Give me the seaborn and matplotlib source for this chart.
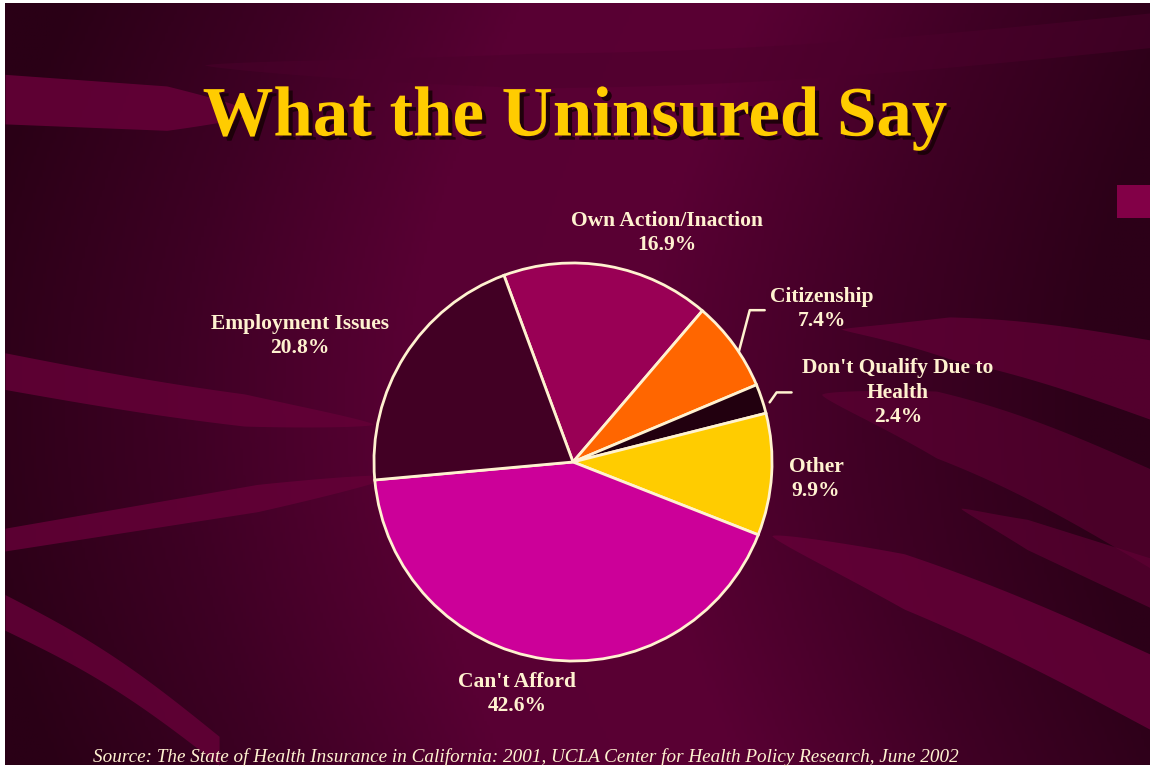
import numpy as np
import matplotlib
matplotlib.use("Agg")
import matplotlib.pyplot as plt
import matplotlib.patheffects as pe
from matplotlib.colors import LinearSegmentedColormap
import seaborn as sns

# ---- data ----
categories = ["Own Action/Inaction", "Citizenship", "Don't Qualify Due to\nHealth",
              "Other", "Can't Afford", "Employment Issues"]
shares = [16.9, 7.4, 2.4, 9.9, 42.6, 20.8]
slice_colors = ["#990055", "#FF6600", "#22000F", "#FFCC00", "#CC0099", "#420024"]
title_text = "What the Uninsured Say"
source_text = ("Source: The State of Health Insurance in California: 2001, "
               "UCLA Center for Health Policy Research, June 2002")

sns.set_theme(style="white")
plt.rcParams['font.family'] = ['Liberation Serif', 'DejaVu Serif']

W, H = 1150, 769
fig = plt.figure(figsize=(W / 100, H / 100), dpi=100, facecolor="white")

# ---- background ----
bg = fig.add_axes([5 / W, 4 / H, (W - 5) / W, (H - 7) / H])
bg.set_xlim(0, W)
bg.set_ylim(H, 0)
bg.axis("off")
cmap = LinearSegmentedColormap.from_list(
    "bg", ["#2A0016", "#3E0024", "#580033", "#5A0034", "#400025", "#2C0018"])
xx = np.linspace(0, 1, 400)
yy = np.linspace(0, 1, 200)
X, Y = np.meshgrid(xx, yy)
Z = np.clip(X + 0.10 * np.sin(Y * 3) - 0.05, 0, 1)
bg.imshow(Z, extent=[0, W, H, 0], cmap=cmap, aspect="auto", zorder=0)

band = "#640037"
t = np.linspace(0, 1, 200)
def tape(x0, x1, top0, top1, bot0, bot1, color=band, alpha=0.9, bend=0.0,
         taper_start=False, taper_end=False):
    x = x0 + (x1 - x0) * t
    s = bend * np.sin(t * np.pi)
    top = top0 + (top1 - top0) * t + s
    bot = bot0 + (bot1 - bot0) * t + s
    mid = (top + bot) / 2
    half = (bot - top) / 2
    f = np.ones_like(t)
    if taper_start:
        f = np.minimum(f, np.clip(t / 0.35, 0, 1) ** 0.7)
    if taper_end:
        f = np.minimum(f, np.clip((1 - t) / 0.35, 0, 1) ** 0.7)
    bg.fill_between(x, mid - half * f, mid + half * f,
                    color=color, alpha=alpha, lw=0, zorder=1)

# top-left band
tape(0, 250, 72, 90, 122, 132, taper_end=True)
# faint top arc
tape(200, 1150, 45, 10, 80, 45, color="#4C002C", alpha=0.5, bend=20, taper_start=True)
# left bands
tape(0, 370, 353, 410, 390, 440, alpha=0.85, bend=5, taper_end=True)
tape(0, 390, 530, 462, 553, 492, alpha=0.85, taper_end=True)
tape(0, 215, 597, 740, 633, 769, alpha=0.85, bend=-10)
# right bands
tape(840, 1150, 318, 340, 340, 420, alpha=0.7, bend=-10, taper_start=True)
tape(820, 1150, 370, 470, 420, 570, alpha=0.55, bend=-15, taper_start=True)
tape(770, 1150, 515, 657, 560, 733, alpha=0.85, bend=-10, taper_start=True)
tape(960, 1150, 500, 560, 520, 610, alpha=0.6, taper_start=True)
# small right tab
bg.fill_between([1117, 1150], [184, 184], [217, 217], color="#820047", lw=0, zorder=1)

# ---- title ----
fig.text(575 / W, 1 - 118 / H, title_text, ha="center", va="center", fontsize=51,
         fontweight="bold", color="#FFCC00",
         path_effects=[pe.withSimplePatchShadow(offset=(3, -3), shadow_rgbFace="#1A0008", alpha=0.9)])

# ---- pie ----
cx, cy, r = 573, 462, 203
ax = fig.add_axes([(cx - r) / W, 1 - (cy + r) / H, 2 * r / W, 2 * r / H])
ax.pie(shares, colors=slice_colors, startangle=110.3, counterclock=False,
       wedgeprops=dict(edgecolor="#FFF2D0", linewidth=2))
ax.set_xlim(-1.02, 1.02)
ax.set_ylim(-1.02, 1.02)
ax.set_aspect("equal")
ax.axis("off")

# ---- labels ----
txt = "#FFF2D0"
label_pos = [(667, 233), (822, 309), (898, 393), (816, 479), (517, 694), (300, 336)]
for name, val, (lx, ly) in zip(categories, shares, label_pos):
    fig.text(lx / W, 1 - ly / H, f"{name}\n{val:.1f}%", ha="center", va="center",
             fontsize=15.5, fontweight="bold", color=txt, linespacing=1.3)

# leader lines
lines = [[(737, 352), (748, 310), (763, 310)], [(768, 403), (775, 393), (790, 393)]]
for pts in lines:
    xs = [p[0] for p in pts]
    ys = [p[1] for p in pts]
    bg.plot(xs, ys, color=txt, lw=1.8, zorder=3)

# ---- source ----
fig.text(93 / W, 1 - 757 / H, source_text, ha="left", va="center", fontsize=13.8,
         style="italic", color=txt)

fig.savefig("out.png", dpi=100, facecolor="white")
